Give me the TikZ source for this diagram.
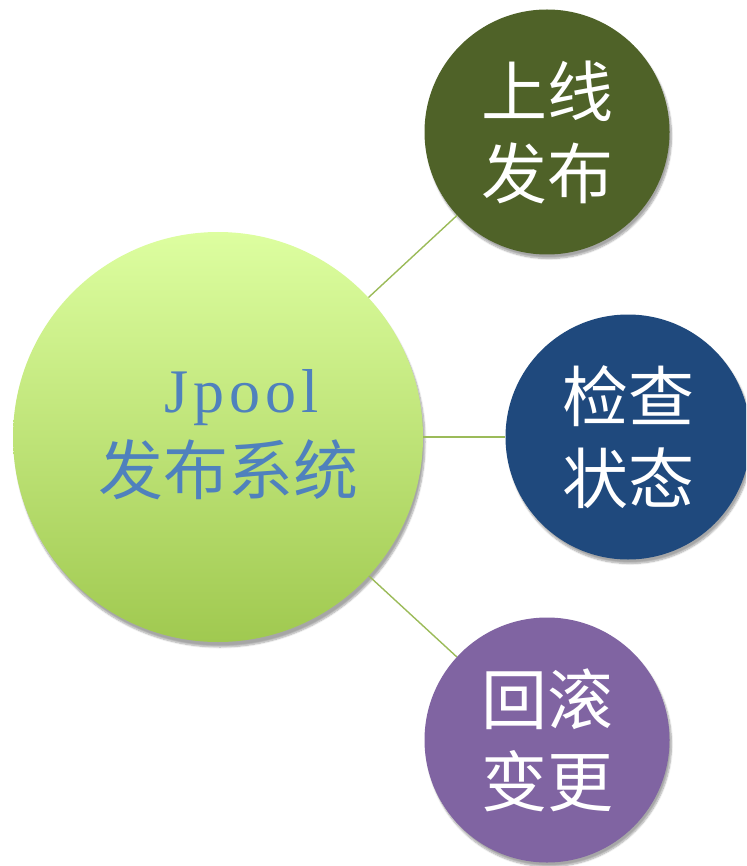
\documentclass[tikz,border=0pt]{standalone}
\usepackage{fontspec}
\usetikzlibrary{shadows.blur}
\newfontfamily\cjk{Noto Sans CJK SC}
\newfontfamily\latinf[LetterSpace=8]{Liberation Serif}
\definecolor{hubtop}{RGB}{221,254,160}
\definecolor{hubbot}{RGB}{160,201,80}
\definecolor{hubtext}{RGB}{79,129,189}
\definecolor{olive}{RGB}{79,98,40}
\definecolor{navy}{RGB}{31,73,125}
\definecolor{violet}{RGB}{128,100,162}
\definecolor{linkcol}{RGB}{155,187,89}
\tikzset{
  bubble/.style={circle, inner sep=0pt, minimum size=245pt, text=white,
    font=\cjk\fontsize{66}{82}\selectfont, align=center,
    blur shadow={shadow xshift=2pt, shadow yshift=-4pt, shadow blur steps=8, shadow opacity=35}},
  hubstyle/.style={circle, inner sep=0pt, minimum size=410pt,
    top color=hubtop, bottom color=hubbot,
    blur shadow={shadow xshift=2pt, shadow yshift=-5pt, shadow blur steps=8, shadow opacity=35}},
  link/.style={draw=linkcol, line width=1.4pt},
  hubfont/.style={text=hubtext, inner sep=0pt}
}
\begin{document}
\begin{tikzpicture}[x=1pt,y=-1pt]
\clip (0,0) rectangle (746,866);
\node[hubstyle] (hub) at (218,437) {};
\node[bubble, fill=olive] (release) at (547,132) {上线\\发布};
\node[bubble, fill=navy] (check) at (628,437) {检查\\状态};
\node[bubble, fill=violet] (rollback) at (547,740) {回滚\\变更};
\draw[link] (hub) -- (release);
\draw[link] (hub) -- (check);
\draw[link] (hub) -- (rollback);
\node[hubfont, font=\latinf\fontsize{62}{62}\selectfont] (jpool) at (242,398) {Jpool};
\node[hubfont, font=\cjk\fontsize{65}{65}\selectfont] (hubname) at (228,470) {发布系统};
\end{tikzpicture}
\end{document}
